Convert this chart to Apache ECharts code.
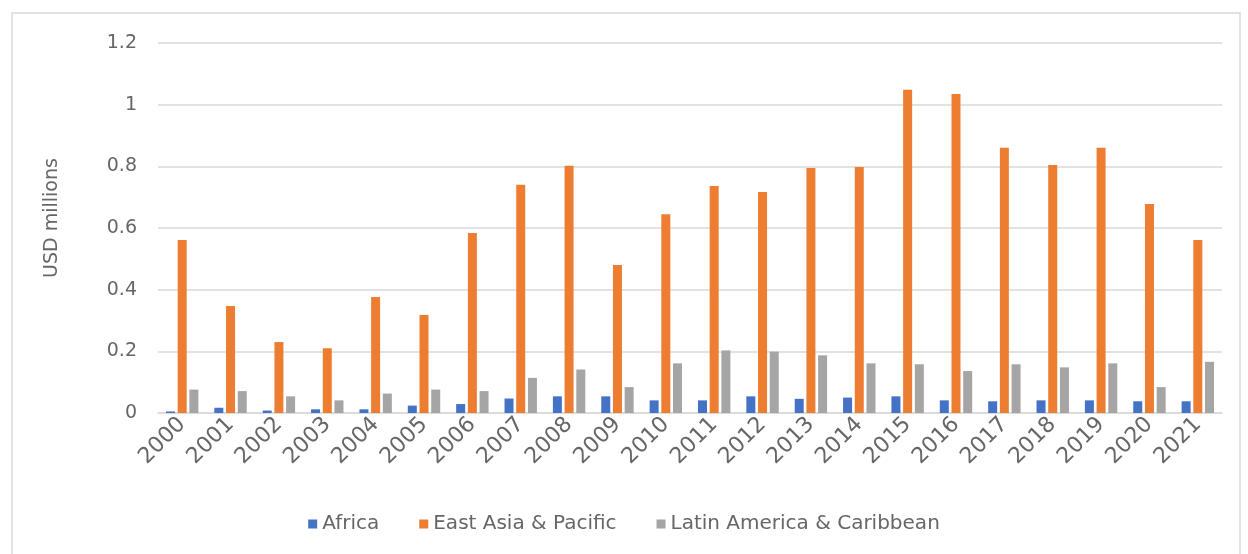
<!DOCTYPE html>
<html>
<head>
<meta charset="utf-8">
<script src="https://cdn.jsdelivr.net/npm/echarts@6/dist/echarts.min.js"></script>
<style>
  html, body { margin: 0; padding: 0; background: #fff; }
  #chart { width: 1248px; height: 554px; }
</style>
</head>
<body>
<div id="chart"></div>
<script>
// Values (USD millions).
var years = ['2000', '2001', '2002', '2003', '2004', '2005', '2006', '2007', '2008', '2009', '2010',
             '2011', '2012', '2013', '2014', '2015', '2016', '2017', '2018', '2019', '2020', '2021'];
var africa = [0.005, 0.017, 0.008, 0.012, 0.012, 0.024, 0.029, 0.047, 0.054, 0.054, 0.041,
              0.041, 0.054, 0.046, 0.050, 0.054, 0.041, 0.038, 0.041, 0.041, 0.038, 0.038];
var eastAsia = [0.561, 0.347, 0.230, 0.210, 0.376, 0.318, 0.584, 0.740, 0.802, 0.480, 0.645,
                0.736, 0.717, 0.795, 0.798, 1.048, 1.035, 0.860, 0.804, 0.860, 0.678, 0.561];
var latinAm = [0.076, 0.071, 0.054, 0.041, 0.063, 0.076, 0.071, 0.114, 0.141, 0.084, 0.161,
               0.203, 0.199, 0.187, 0.161, 0.158, 0.136, 0.158, 0.148, 0.161, 0.084, 0.166];
var seriesNames = ['Africa', 'East Asia & Pacific', 'Latin America & Caribbean'];
var colors = ['#4472c4', '#ed7d31', '#a5a5a5'];

var FONT = "'DejaVu Sans', sans-serif";
var TEXT = '#666666';

var chart = echarts.init(document.getElementById('chart'), null, { renderer: 'canvas' });

function bar(name, data, idx) {
    return {
        name: name,
        type: 'bar',
        data: data,
        barWidth: 9,
        barGap: '30%',
        itemStyle: { color: colors[idx] },
        animation: false
    };
}

chart.setOption({
    animation: false,
    textStyle: { fontFamily: FONT },
    graphic: [{
        type: 'rect',
        shape: { x: 12, y: 13, width: 1228, height: 560 },
        style: { fill: 'none', stroke: '#d9d9d9', lineWidth: 1.5 },
        silent: true
    }],
    grid: { left: 158, right: 26, top: 43, bottom: 141 },
    legend: {
        data: seriesNames,
        bottom: 15,
        left: 'center',
        itemWidth: 9,
        itemHeight: 9,
        itemGap: 40,
        icon: 'rect',
        textStyle: { color: TEXT, fontSize: 20, fontFamily: FONT }
    },
    xAxis: {
        type: 'category',
        data: years,
        axisLine: { lineStyle: { color: '#d9d9d9', width: 1.5 } },
        axisTick: { show: false },
        axisLabel: { rotate: 45, color: TEXT, fontSize: 22, fontFamily: FONT, margin: 8, interval: 0 }
    },
    yAxis: {
        type: 'value',
        min: 0,
        max: 1.2,
        interval: 0.2,
        name: 'USD millions',
        nameLocation: 'middle',
        nameGap: 96,
        nameTextStyle: { color: TEXT, fontSize: 19, fontFamily: FONT, padding: [0, 0, 0, 20] },
        axisLine: { show: false },
        axisTick: { show: false },
        axisLabel: {
            color: TEXT, fontSize: 19, fontFamily: FONT, margin: 21,
            formatter: function (v) { return String(Math.round(v * 10) / 10); }
        },
        splitLine: { lineStyle: { color: '#d9d9d9', width: 1.5 } }
    },
    series: [
        bar(seriesNames[0], africa, 0),
        bar(seriesNames[1], eastAsia, 1),
        bar(seriesNames[2], latinAm, 2)
    ]
});
</script>
</body>
</html>
